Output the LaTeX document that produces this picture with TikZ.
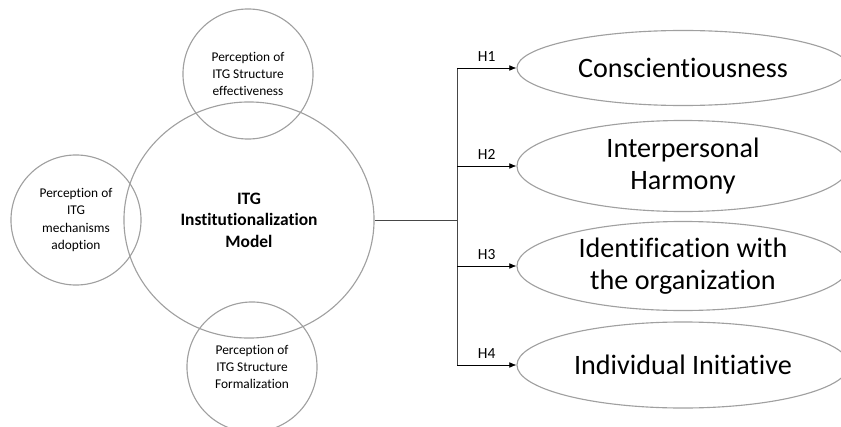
\documentclass[tikz,border=0pt]{standalone}
\usepackage{fontspec}
\setmainfont{Carlito}[RawFeature={-liga}]
\usepackage{xcolor}
\usepackage{tikz}
\usetikzlibrary{shapes.geometric, arrows.meta, positioning}
\definecolor{ringgray}{RGB}{160,160,160}
\definecolor{linkgray}{RGB}{70,70,70}

\begin{document}
\begin{tikzpicture}[x=0.025cm, y=-0.025cm,
    facet/.style={circle, draw=ringgray, thick, minimum size=3.25cm, inner sep=0pt,
                  align=center, font=\fontsize{9.5}{12.3}\selectfont},
    mainmodel/.style={ellipse, draw=ringgray, thick, minimum width=6.25cm, minimum height=5.9cm,
                  inner sep=0pt, align=center, font=\fontsize{12.4}{15.2}\selectfont\bfseries},
    outcome/.style={ellipse, draw=ringgray, thick, minimum width=8.3cm, inner sep=0pt,
                  align=center, font=\fontsize{20}{23}\selectfont},
    trunk/.style={linkgray},
    link/.style={-{Latex[length=5pt,width=4pt]}, black},
    hlabel/.style={above, font=\fontsize{11}{13}\selectfont, yshift=1pt}]
    \useasboundingbox (0,0) rectangle (841,427);
    \clip (0,0) rectangle (841,427);

    % Model and its three facets
    \node[mainmodel] (model) at (249,220) {ITG\\Institutionalization\\Model};
    \node[facet] (effect) at (248,74) {Perception of\\ITG Structure\\effectiveness};
    \node[facet] (adopt) at (76,220) {Perception of\\ITG\\mechanisms\\adoption};
    \node[facet] (formal) at (252,367) {Perception of\\ITG Structure\\Formalization};

    % Outcomes
    \node[outcome, minimum height=1.875cm] (consc) at (683,68) {Conscientiousness};
    \node[outcome, minimum height=2.275cm] (harmony) at (683,166) {Interpersonal\\Harmony};
    \node[outcome, minimum height=2.225cm] (ident) at (683,266) {Identification with\\the organization};
    \node[outcome, minimum height=2.15cm] (initiative) at (683,365) {Individual Initiative};

    % Hypotheses
    \coordinate (fork) at (457,220);
    \draw[trunk] (model.east) -- (fork);
    \draw[trunk] (fork |- consc.west) -- (fork |- initiative.west);
    \foreach \o/\h in {consc/H1, harmony/H2, ident/H3, initiative/H4}
        \draw[link] (fork |- \o.west) -- node[hlabel] {\h} (\o.west);
\end{tikzpicture}
\end{document}
